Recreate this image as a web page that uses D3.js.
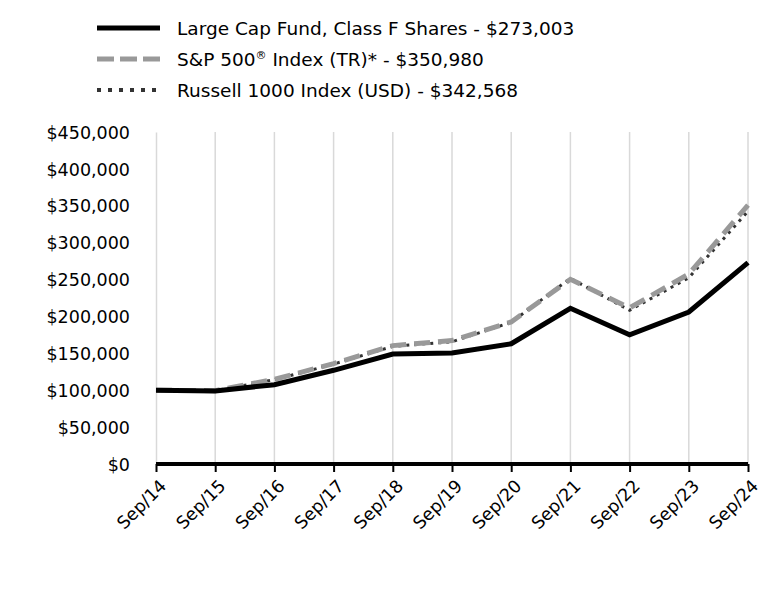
<!DOCTYPE html>
<html><head><meta charset="utf-8">
<script src="https://cdn.jsdelivr.net/npm/d3@7"></script>
<style>body{margin:0;background:#fff;} svg{display:block;} text{font-family:"DejaVu Sans",sans-serif;}</style>
</head><body>
<svg id="c" width="768" height="612"></svg>
<script>
const categories = ["Sep/14","Sep/15","Sep/16","Sep/17","Sep/18","Sep/19","Sep/20","Sep/21","Sep/22","Sep/23","Sep/24"];
const fundValues = [100000, 99000, 107500, 127000, 149000, 150500, 163000, 211000, 175000, 206000, 273003];
const sp500Values = [100000, 99390, 114720, 136070, 160440, 167260, 192600, 250380, 211650, 257410, 350980];
const russellValues = [100000, 99390, 114230, 135410, 159460, 165630, 192150, 251640, 208310, 252450, 342568];
const yTicks = [0, 50000, 100000, 150000, 200000, 250000, 300000, 350000, 400000, 450000];
const seriesNames = ["Large Cap Fund, Class F Shares - $273,003", "S&P 500® Index (TR)* - $350,980", "Russell 1000 Index (USD) - $342,568"];

const FONT = "DejaVu Sans";
const svg = d3.select("#c");
const x = d3.scalePoint().domain(categories).range([156, 748]);
const y = d3.scaleLinear().domain([0, 450000]).range([464, 132]);
const fmt = v => "$" + d3.format(",")(v);

// vertical gridlines
svg.append("g").selectAll("line").data(categories.slice(1)).join("line")
  .attr("x1", d => x(d)).attr("x2", d => x(d)).attr("y1", 132).attr("y2", 464)
  .attr("stroke", "#d9d9d9").attr("stroke-width", 1.5);

// y axis
const ya = svg.append("g").attr("transform", "translate(156,0)")
  .call(d3.axisLeft(y).tickValues(yTicks).tickFormat(fmt).tickSize(0).tickPadding(26));
ya.attr("font-family", FONT).attr("font-size", 17.5);
ya.select(".domain").attr("stroke", "#d9d9d9").attr("stroke-width", 1.5);
ya.selectAll("text").attr("fill", "#000").attr("dy", "0.35em");

// x axis
const xa = svg.append("g").attr("transform", "translate(0,464)")
  .call(d3.axisBottom(x).tickSize(8).tickPadding(4));
xa.attr("font-family", FONT).attr("font-size", 17.5);
xa.select(".domain").attr("stroke", "#000").attr("stroke-width", 4).attr("d", "M156,0H748");
xa.selectAll(".tick line").attr("stroke", "#000").attr("stroke-width", 2);
xa.selectAll("text").attr("fill", "#000")
  .attr("text-anchor", "end").attr("dy", 0).attr("y", 0)
  .attr("transform", "translate(11,23) rotate(-45)");

const line = d3.line().x((d, i) => x(categories[i])).y(d => y(d));
const styles = [
  {data: fundValues, stroke: "#000", w: 5, dash: null, lw: 5, ldash: null},
  {data: sp500Values, stroke: "#999", w: 5, dash: "16,8", lw: 5, ldash: "17,6"},
  {data: russellValues, stroke: "#333", w: 3, dash: "3,5", lw: 4, ldash: "4,7"}
];
svg.append("g").selectAll("path").data(styles.slice().reverse()).join("path")
  .attr("d", d => line(d.data)).attr("fill", "none")
  .attr("stroke", d => d.stroke).attr("stroke-width", d => d.w)
  .attr("stroke-dasharray", d => d.dash);

// legend
const lg = svg.append("g").attr("font-family", FONT);
styles.forEach((s, i) => {
  const yy = 28 + i * 31;
  lg.append("line").attr("x1", 97).attr("x2", 160).attr("y1", yy).attr("y2", yy)
    .attr("stroke", s.stroke).attr("stroke-width", s.lw).attr("stroke-dasharray", s.ldash);
  const t = lg.append("text").attr("x", 177).attr("y", yy + 7).attr("font-size", 18.5).attr("fill", "#000");
  if (i === 1) {
    t.append("tspan").text("S&P 500");
    t.append("tspan").text("®").attr("font-size", 11).attr("dy", -7);
    t.append("tspan").text(" Index (TR)* - $350,980").attr("dy", 7);
  } else {
    t.text(seriesNames[i]);
  }
});
</script>
</body></html>
